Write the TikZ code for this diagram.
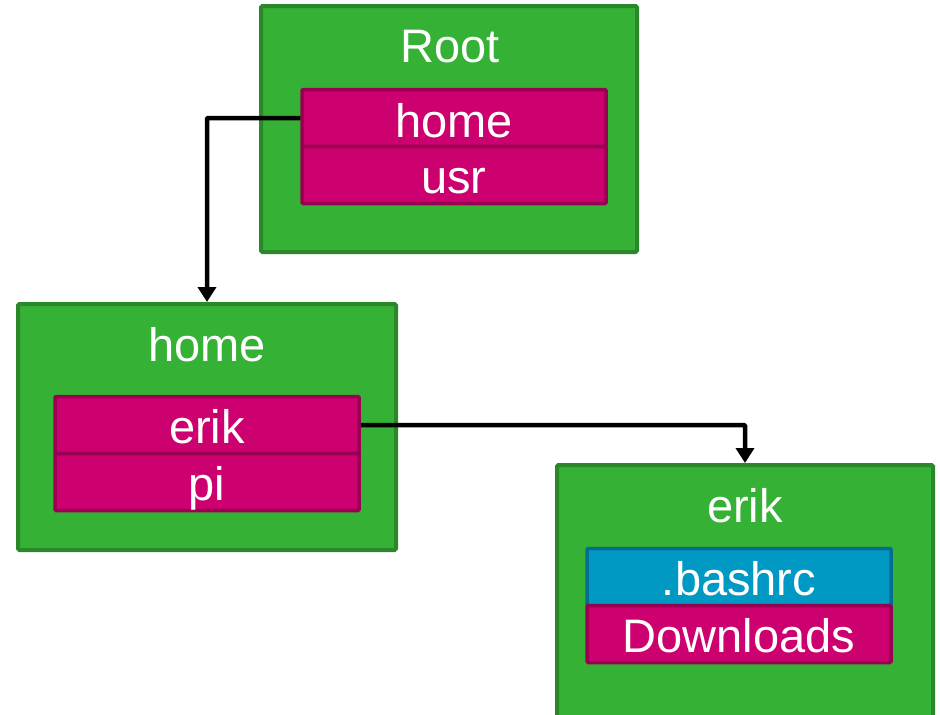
\documentclass[tikz,border=0pt]{standalone}
\usepackage{fontspec}
\setmainfont{Liberation Sans}
\usetikzlibrary{arrows.meta}
\definecolor{dirfill}{HTML}{35B235}
\definecolor{dirline}{HTML}{2A882A}
\definecolor{entfill}{HTML}{CC006E}
\definecolor{entline}{HTML}{990052}
\definecolor{filefill}{HTML}{0099C4}
\definecolor{fileline}{HTML}{006E8E}
\tikzset{
  dirbox/.style={draw=dirline, fill=dirfill, line width=4pt, rounded corners=1.5pt,
    minimum width=376pt, minimum height=246pt, inner sep=0pt},
  label/.style={text=white, font=\fontsize{47}{56}\selectfont, anchor=base, inner sep=0pt},
  entry/.style={draw=entline, fill=entfill, line width=3.5pt, rounded corners=1pt,
    minimum width=304pt, minimum height=57pt, inner sep=0pt},
  fileentry/.style={entry, draw=fileline, fill=filefill},
  link/.style={line width=4.5pt, -{Triangle[length=15pt,width=18pt]}, rounded corners=1pt}
}
\begin{document}
\begin{tikzpicture}[x=1pt, y=-1pt]
\useasboundingbox (0,0) rectangle (940,715);

% directory boxes
\node[dirbox] (rootbox) at (449,129) {};
\node[dirbox, minimum width=378pt] (homebox) at (207,427) {};
\node[dirbox, minimum height=262pt] (erikbox) at (745,596) {};

% titles
\node[label] (roottitle) at (450,62) {Root};
\node[label] (hometitle) at (207,361) {home};
\node[label] (eriktitle) at (745,522) {erik};

% entries of Root
\node[entry] (rhome) at (454,118) {};
\node[entry] (rusr) at (454,175) {};
\node[label] (rhomet) at (454,137) {home};
\node[label] (rusrt) at (454,193) {usr};

% entries of home
\node[entry] (herik) at (207,425) {};
\node[entry] (hpi) at (207,482) {};
\node[label] (herikt) at (207,443) {erik};
\node[label] (hpit) at (207,500) {pi};

% entries of erik
\node[fileentry] (ebash) at (739,577) {};
\node[entry] (edown) at (739,634) {};
\node[label] (ebasht) at (739,595) {.bashrc};
\node[label] (edownt) at (739,652) {Downloads};

% links to the child directories
\draw[link] (rhome.west) -| (homebox.north);
\draw[link] (herik.east) -| (erikbox.north);
\end{tikzpicture}
\end{document}
